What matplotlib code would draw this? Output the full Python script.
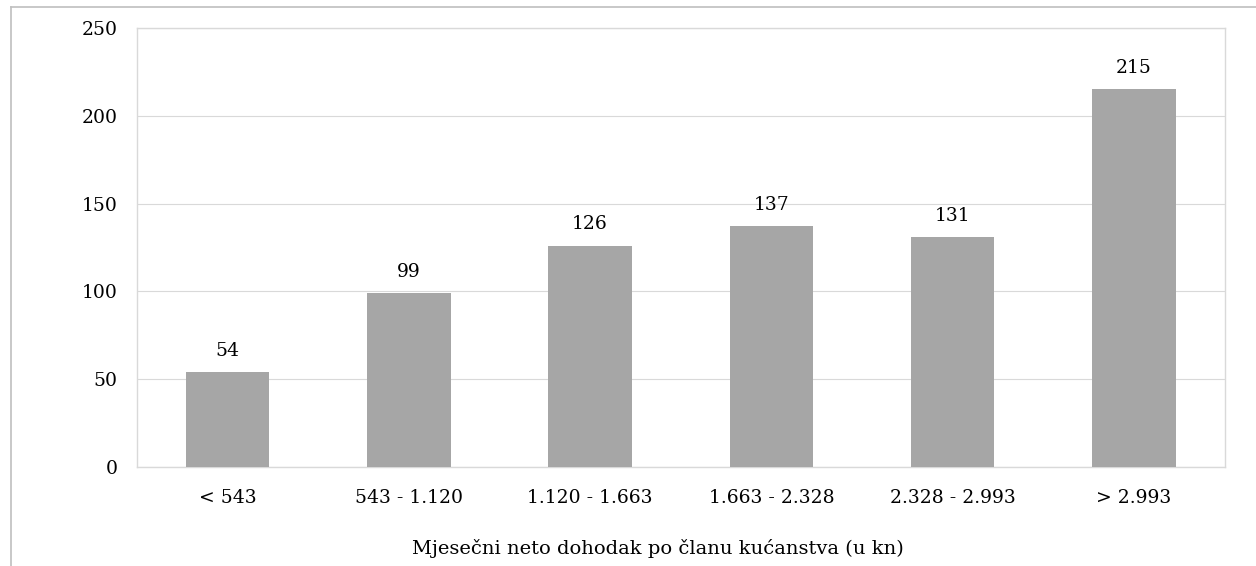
import matplotlib.pyplot as plt
from matplotlib.lines import Line2D

# podaci
kategorije = ['< 543', '543 - 1.120', '1.120 - 1.663', '1.663 - 2.328', '2.328 - 2.993', '> 2.993']
vrijednosti = [54, 99, 126, 137, 131, 215]
y_oznake = [0, 50, 100, 150, 200, 250]

plt.rcParams['font.family'] = ['DejaVu Serif']
FS = 13.5

fig = plt.figure(figsize=(12.56, 5.66), dpi=100)
ax = fig.add_axes([0.109, 0.175, 0.866, 0.7755])

x = range(len(kategorije))
ax.bar(x, vrijednosti, width=0.46, color='#a6a6a6', zorder=3)
ax.set_xlim(-0.5, len(kategorije) - 0.5)
ax.set_ylim(0, 250)
ax.set_yticks(y_oznake)
ax.set_yticklabels([str(v) for v in y_oznake], fontsize=FS)
ax.set_xticks(list(x))
ax.set_xticklabels(kategorije, fontsize=FS)
ax.tick_params(length=0)
ax.tick_params(axis='y', pad=14)
ax.tick_params(axis='x', pad=16)
ax.grid(axis='y', color='#d9d9d9', linewidth=0.8, zorder=0)
for s in ax.spines.values():
    s.set_color('#d9d9d9')
    s.set_linewidth(1)

# vrijednosti iznad stupaca
for i, v in zip(x, vrijednosti):
    ax.text(i, v + 7, str(v), ha='center', va='bottom', fontsize=FS)

ax.set_xlabel('Mjesečni neto dohodak po članu kućanstva (u kn)', fontsize=14, labelpad=22)
ax.xaxis.set_label_coords(0.479, -0.165)

# okvir grafikona
fig.add_artist(Line2D([11/1256, 11/1256], [0, 559/566], color='#bfbfbf', linewidth=1.2))
fig.add_artist(Line2D([11/1256, 1], [559/566, 559/566], color='#bfbfbf', linewidth=1.2))

plt.savefig('out.png')
